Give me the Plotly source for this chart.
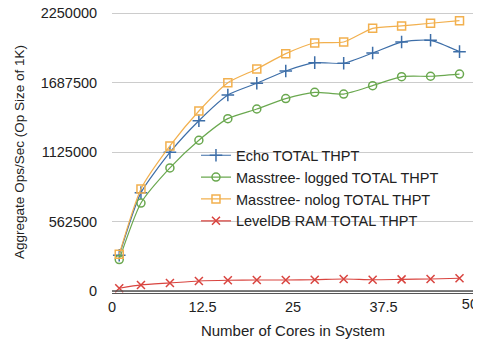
import plotly.graph_objects as go

cores = [1, 4, 8, 12, 16, 20, 24, 28, 32, 36, 40, 44, 48]
echo = [289000, 796000, 1122000, 1378000, 1586000, 1681000, 1781000, 1848000, 1843000, 1926000, 2015000, 2029000, 1937000]
mass_logged = [254000, 712000, 996000, 1220000, 1395000, 1473000, 1557000, 1608000, 1594000, 1662000, 1735000, 1738000, 1756000]
mass_nolog = [297000, 826000, 1174000, 1457000, 1686000, 1797000, 1921000, 2007000, 2015000, 2126000, 2145000, 2167000, 2188000]
leveldb = [22000, 49000, 65000, 81000, 87000, 89000, 89000, 91000, 97000, 91000, 94000, 97000, 103000]

x_ticks = [0, 12.5, 25, 37.5]
x_tick_labels = ["0", "12.5", "25", "37.5"]
x_end_tick = [50]
x_end_label = ["50"]
y_ticks = [0, 562500, 1125000, 1687500, 2250000]
y_tick_labels = ["0", "562500", "1125000", "1687500", "2250000"]

series = [
    ("Echo TOTAL THPT", echo, "#3d6ea8", "cross-thin-open", 9),
    ("Masstree- logged TOTAL THPT", mass_logged, "#6aa84f", "circle-open", 8),
    ("Masstree- nolog TOTAL THPT", mass_nolog, "#f2b04e", "square-open", 8),
    ("LevelDB RAM TOTAL THPT", leveldb, "#d9443f", "x-thin-open", 8),
]

fig = go.Figure()
for name, vals, color, sym, sz in series:
    fig.add_trace(go.Scatter(
        x=cores, y=vals, name=name, mode="lines+markers",
        line=dict(color=color, width=1.2, shape="spline", smoothing=0.6),
        marker=dict(symbol=sym, size=sz, color=color, line=dict(color=color, width=1.5)),
        cliponaxis=False,
    ))

# invisible helper trace so the secondary x axis (carrying the "50" label) is drawn
fig.add_trace(go.Scatter(x=cores, y=leveldb, xaxis="x2", mode="lines",
                         line=dict(color="rgba(0,0,0,0)"), showlegend=False, hoverinfo="skip"))

# baseline (x axis line) drawn along y = 0
fig.add_hline(y=0, line=dict(color="#555", width=1.5), layer="above")

fig.update_layout(
    width=473, height=331,
    margin=dict(l=104, r=7, t=3, b=46),
    paper_bgcolor="white", plot_bgcolor="white",
    font=dict(family="Liberation Sans, Arial, sans-serif", size=14.5, color="#222"),
    showlegend=True,
    legend=dict(x=0.232, y=0.545, xanchor="left", yanchor="top",
                bgcolor="rgba(0,0,0,0)", font=dict(size=14.5, color="#222"),
                tracegroupgap=0, itemwidth=30),
    xaxis=dict(range=[0, 50], tickvals=x_ticks, ticktext=x_tick_labels, automargin=False,
               ticklabeloverflow="allow",
               showgrid=False, zeroline=False, showline=True, linecolor="#555", linewidth=1.2,
               ticks="",
               title=dict(text="Number of Cores in System", standoff=12, font=dict(size=15))),
    xaxis2=dict(range=[0, 50], overlaying="x", side="bottom", anchor="y",
                tickvals=x_end_tick, ticktext=x_end_label, automargin=False,
                ticklabeloverflow="allow", ticklabelposition="outside left", ticklabelshift=4,
                showgrid=False, zeroline=False, showline=False, ticks=""),
    yaxis=dict(range=[-16187, 2266187], tickvals=y_ticks, ticktext=y_tick_labels, automargin=False,
               ticklabeloverflow="allow",
               showgrid=True, gridcolor="#cccccc", gridwidth=1,
               zeroline=False, showline=False,
               ticks="outside", ticklen=11, tickcolor="rgba(0,0,0,0)",
               title=dict(text="Aggregate Ops/Sec (Op Size of 1K)", standoff=12, font=dict(size=13.5))),
)

fig.write_html("out.html")
